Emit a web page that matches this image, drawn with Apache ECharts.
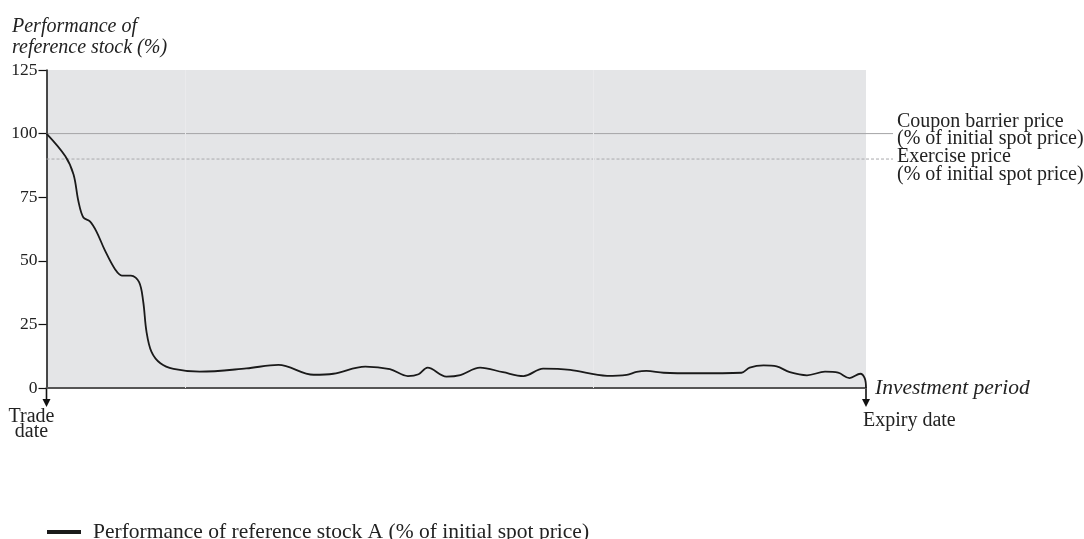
<!DOCTYPE html>
<html>
<head>
<meta charset="utf-8">
<script src="https://cdn.jsdelivr.net/npm/echarts@6/dist/echarts.min.js"></script>
<style>html,body{margin:0;padding:0;background:#fff}#c{width:1084px;height:539px}</style>
</head>
<body>
<div id="c"></div>
<script>
// ---- data ----
const times = [0, 2.3, 3.3, 3.9, 4.5, 5.3, 6.1, 7.1, 8.4, 9.2, 10.3, 11.3, 11.8, 12.2, 12.8, 13.9, 15.5, 18.7, 24.4, 28.3, 32.6, 35.0, 38.9, 41.9, 44.1, 45.4, 46.5, 48.8, 50.5, 52.9, 55.7, 58.2, 60.6, 63.9, 68.4, 70.8, 72.0, 73.2, 75.3, 79.3, 84.8, 85.8, 87.5, 89.1, 90.7, 92.8, 95.0, 96.6, 98.0, 99.3, 99.85, 100];
const performance = [100, 91.1, 83.9, 73.3, 67.0, 65.5, 61.5, 54.3, 46.5, 44.2, 44.2, 41.6, 34.0, 22.2, 14.3, 9.7, 7.5, 6.4, 7.7, 9.1, 5.2, 5.6, 8.4, 7.4, 4.7, 5.4, 8.0, 4.5, 5.1, 8.0, 6.2, 4.7, 7.6, 7.1, 4.8, 5.2, 6.3, 6.7, 6.0, 5.8, 6.0, 8.0, 8.9, 8.5, 6.2, 5.0, 6.4, 6.0, 3.9, 5.6, 3.8, 0];
const couponBarrier = 100;
const exercisePrice = 90;
const yTicks = [0, 25, 50, 75, 100, 125];
const seriesName = 'Performance of reference stock A (% of initial spot price)';
const couponLabel = 'Coupon barrier price\n(% of initial spot price)';
const exerciseLabel = 'Exercise price\n(% of initial spot price)';
const yTitle = 'Performance of\nreference stock (%)';
const xTitle = 'Investment period';
const startLabel = 'Trade\ndate';
const endLabel = 'Expiry date';
const periodStart = 0, periodEnd = 100;

// ---- layout/style ----
const FONT = 'Liberation Serif';
const TXT = '#222';
const LEADER_PX = 27; // leader lines run past the plot to the labels

const chart = echarts.init(document.getElementById('c'));
const perfData = times.map((t, i) => [t, performance[i]]);

chart.setOption({
  animation: false,
  textStyle: { fontFamily: FONT, color: TXT },
  title: {
    text: yTitle, left: 7, top: 11,
    textStyle: { fontFamily: FONT, fontSize: 20, fontStyle: 'italic', fontWeight: 'normal', color: TXT, lineHeight: 21 }
  },
  grid: { left: 46.5, right: 218, top: 70, bottom: 151, show: true, backgroundColor: '#e4e5e7', borderWidth: 0 },
  legend: {
    data: [seriesName], left: 47, top: 521, padding: 0, icon: 'rect', itemWidth: 34, itemHeight: 4,
    textStyle: { fontFamily: FONT, fontSize: 21.5, lineHeight: 22, color: TXT, padding: [0, 0, 0, 7] }
  },
  xAxis: {
    type: 'value', min: periodStart, max: periodEnd,
    name: xTitle, nameLocation: 'end', nameGap: 9,
    nameTextStyle: { fontFamily: FONT, fontSize: 21.5, fontStyle: 'italic', color: TXT, align: 'left', verticalAlign: 'middle' },
    axisLine: { lineStyle: { color: '#555', width: 2 } },
    axisTick: { show: false }, axisLabel: { show: false }, splitLine: { show: false }
  },
  yAxis: {
    type: 'value', min: yTicks[0], max: yTicks[yTicks.length - 1], interval: 25,
    axisLine: { show: true, lineStyle: { color: '#111', width: 1.5 } },
    axisTick: { show: true, length: 8, lineStyle: { color: '#111', width: 1.2 } },
    axisLabel: { fontFamily: FONT, fontSize: 17.5, color: TXT, margin: 9 },
    splitLine: { show: false }
  },
  series: [
    {
      name: 'coupon', type: 'line', data: [[periodStart, couponBarrier], [periodEnd, couponBarrier]],
      symbol: 'none', silent: true, z: 1,
      lineStyle: { color: '#a4a4a6', width: 1 },
      endLabel: { show: true, formatter: couponLabel, distance: LEADER_PX + 4, fontFamily: FONT, fontSize: 20, color: TXT, lineHeight: 17, offset: [0, -3] }
    },
    {
      name: 'exercise', type: 'line', data: [[periodStart, exercisePrice], [periodEnd, exercisePrice]],
      symbol: 'none', silent: true, z: 1,
      lineStyle: { color: '#aaaaac', width: 1, type: [3, 2] },
      endLabel: { show: true, formatter: exerciseLabel, distance: LEADER_PX + 4, fontFamily: FONT, fontSize: 20, color: TXT, lineHeight: 18, offset: [0, 7] }
    },
    {
      name: seriesName, type: 'line', data: perfData, symbol: 'none', smooth: 0.35,
      color: '#1a1a1a', lineStyle: { color: '#1a1a1a', width: 1.8 }, z: 5,
      markLine: {
        silent: true, symbol: 'none', label: { show: false },
        lineStyle: { color: '#eaeaec', width: 1, type: 'solid' },
        data: [{ xAxis: 16.9 }, { xAxis: 66.7 }]
      }
    }
  ]
});

// arrows, leader extensions and end-point labels, positioned through the chart's own scales
const p0 = chart.convertToPixel({ gridIndex: 0 }, [periodStart, 0]);
const p1 = chart.convertToPixel({ gridIndex: 0 }, [periodEnd, 0]);
const pc = chart.convertToPixel({ gridIndex: 0 }, [periodEnd, couponBarrier]);
const pe = chart.convertToPixel({ gridIndex: 0 }, [periodEnd, exercisePrice]);
function arrow(x, y) {
  return [
    { type: 'line', shape: { x1: x, y1: y, x2: x, y2: y + 12 }, style: { stroke: '#111', lineWidth: 1.6 } },
    { type: 'polygon', shape: { points: [[x - 4, y + 11], [x + 4, y + 11], [x, y + 19]] }, style: { fill: '#111' } }
  ];
}
chart.setOption({
  graphic: [].concat(arrow(p0[0], p0[1]), arrow(p1[0], p1[1]), [
    { type: 'line', shape: { x1: pc[0], y1: pc[1], x2: pc[0] + LEADER_PX, y2: pc[1] }, style: { stroke: '#a4a4a6', lineWidth: 1 } },
    { type: 'line', shape: { x1: pe[0], y1: pe[1], x2: pe[0] + LEADER_PX, y2: pe[1] }, style: { stroke: '#aaaaac', lineWidth: 1, lineDash: [3, 2] } },
    { type: 'text', x: p0[0] - 15, y: p0[1] + 21, style: { text: startLabel, font: '20px ' + FONT, fill: TXT, align: 'center', verticalAlign: 'top', lineHeight: 15 } },
    { type: 'text', x: p1[0] - 3, y: p1[1] + 23, style: { text: endLabel, font: '20px ' + FONT, fill: TXT, align: 'left', verticalAlign: 'top' } }
  ])
});
</script>
</body>
</html>
